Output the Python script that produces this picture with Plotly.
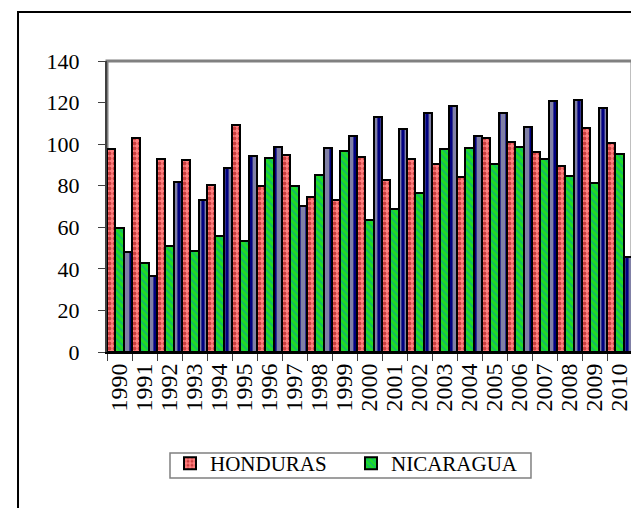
import plotly.graph_objects as go

years = [str(y) for y in range(1990, 2011)]
honduras = [97.5, 103, 92.8, 92.3, 80.3, 109, 79.8, 95, 74.7, 73, 93.6, 82.6, 92.8, 90.4, 84.2, 103, 100.8, 96, 89.5, 107.6, 100.4]
nicaragua = [59.5, 43, 51, 48.7, 55.8, 53.5, 93.1, 80, 85.3, 96.7, 63.5, 68.8, 76.6, 97.6, 98, 90.4, 98.5, 92.7, 84.7, 81.1, 95.4]
third = [48.3, 36.7, 81.6, 73, 88.7, 94.3, 98.8, 70.4, 98.3, 104, 112.9, 107.3, 115.1, 118.3, 104, 115, 108.4, 120.9, 121.2, 117.2, 45.8]

serif = "Liberation Serif"

fig = go.Figure()
fig.add_trace(go.Bar(
    x=years, y=honduras, name="HONDURAS",
    marker=dict(color="#FF8080", line=dict(color="black", width=2),
                pattern=dict(shape=".", fgcolor="#990000", bgcolor="#FF8080", size=5, solidity=0.45)),
))
fig.add_trace(go.Bar(
    x=years, y=nicaragua, name="NICARAGUA",
    marker=dict(color="#22CC22", line=dict(color="black", width=2),
                pattern=dict(shape="\\", fgcolor="#0099AA", bgcolor="#22DD22", size=5, solidity=0.4)),
))
fig.add_trace(go.Bar(
    x=years, y=third, name="EL SALVADOR", showlegend=False,
    marker=dict(color="#000080", line=dict(color="black", width=2),
                pattern=dict(shape="|", fgcolor="#FFFFCC", bgcolor="#000080", size=8, solidity=0.6)),
))

fig.update_layout(
    width=631, height=500,
    margin=dict(l=99, r=7, t=53, b=156),
    paper_bgcolor="white", plot_bgcolor="white",
    barmode="group", bargap=0.0, bargroupgap=0.0,
    font=dict(family=serif, color="black"),
    showlegend=True,
    legend=dict(
        orientation="h", x=0.12, y=-0.313, xanchor="left", yanchor="top",
        bgcolor="rgba(0,0,0,0)", borderwidth=0,
        font=dict(family=serif, size=21, color="black"),
        entrywidth=136, entrywidthmode="pixels",
        itemwidth=30, tracegroupgap=0,
    ),
    xaxis=dict(
        type="category", tickangle=-90, tickson="boundaries", dtick=1,
        ticks="outside", ticklen=7, tickcolor="#404040",
        showline=True, linecolor="black", linewidth=2,
        showgrid=False, tickfont=dict(family=serif, size=24, color="black"),
    ),
    yaxis=dict(
        range=[0, 140], dtick=20, ticks="outside", ticklen=7, tickcolor="#404040",
        showline=True, linecolor="#404040", linewidth=2, showgrid=False, zeroline=False,
        tickfont=dict(family=serif, size=22, color="black"), ticklabelstandoff=14,
    ),
    shapes=[
        dict(type="rect", xref="paper", yref="paper", x0=0, x1=1, y0=0, y1=1,
             line=dict(color="#808080", width=3), layer="below"),
        dict(type="rect", xref="paper", yref="paper", x0=-0.1695, x1=1.2, y0=-0.6, y1=1.168,
             line=dict(color="black", width=2), layer="below"),
        dict(type="rect", xref="paper", yref="paper", x0=0.12, x1=0.8076, y0=-0.433, y1=-0.347,
             line=dict(color="#808080", width=1.5), layer="below"),
    ],
)

fig.write_html("out.html")
